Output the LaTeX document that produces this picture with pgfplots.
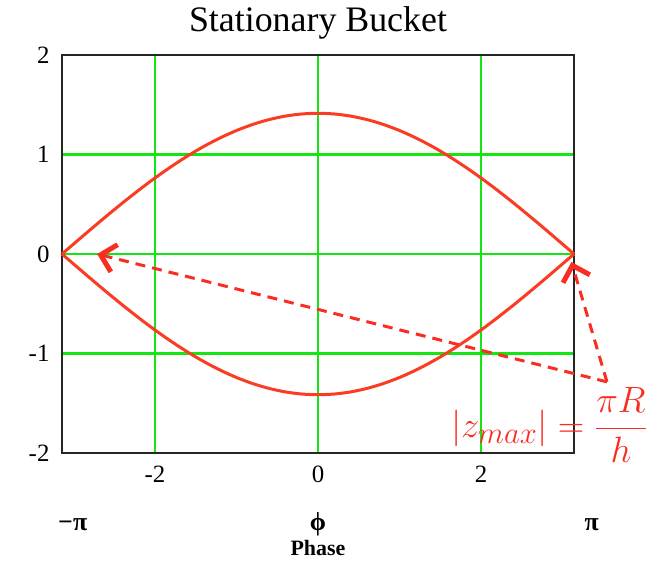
\documentclass[border=0pt]{standalone}
\usepackage{pgfplots}
\pgfplotsset{compat=1.18}
\usepackage{pgfplotstable}
\usepackage{graphicx}
\usepackage{fontspec}
\setmainfont{Liberation Serif}
\usetikzlibrary{arrows.meta}

\definecolor{gridgreen}{RGB}{20,230,20}
\definecolor{curvered}{RGB}{250,60,35}
\definecolor{notered}{RGB}{250,45,35}

% Separatrix of the stationary bucket (upper branch); lower branch is its mirror
\pgfplotstableread{
phi      z
-3.1416  0.0000
-3.0     0.1000
-2.8     0.2404
-2.6     0.3783
-2.4     0.5124
-2.2     0.6415
-2.0     0.7641
-1.8     0.8791
-1.6     0.9853
-1.4     1.0817
-1.2     1.1672
-1.0     1.2411
-0.8     1.3026
-0.6     1.3510
-0.4     1.3860
-0.2     1.4071
 0.0     1.4142
 0.2     1.4071
 0.4     1.3860
 0.6     1.3510
 0.8     1.3026
 1.0     1.2411
 1.2     1.1672
 1.4     1.0817
 1.6     0.9853
 1.8     0.8791
 2.0     0.7641
 2.2     0.6415
 2.4     0.5124
 2.6     0.3783
 2.8     0.2404
 3.0     0.1000
 3.1416  0.0000
}\upperbranch

\pgfplotstableread{
phi      z
-3.1416  -0.0000
-3.0     -0.1000
-2.8     -0.2404
-2.6     -0.3783
-2.4     -0.5124
-2.2     -0.6415
-2.0     -0.7641
-1.8     -0.8791
-1.6     -0.9853
-1.4     -1.0817
-1.2     -1.1672
-1.0     -1.2411
-0.8     -1.3026
-0.6     -1.3510
-0.4     -1.3860
-0.2     -1.4071
 0.0     -1.4142
 0.2     -1.4071
 0.4     -1.3860
 0.6     -1.3510
 0.8     -1.3026
 1.0     -1.2411
 1.2     -1.1672
 1.4     -1.0817
 1.6     -0.9853
 1.8     -0.8791
 2.0     -0.7641
 2.2     -0.6415
 2.4     -0.5124
 2.6     -0.3783
 2.8     -0.2404
 3.0     -0.1000
 3.1416  -0.0000
}\lowerbranch

\begin{document}
\begin{tikzpicture}
\path[use as bounding box] (-62bp,-108bp) rectangle (588bp,453bp);
\begin{axis}[
  at={(0,0)}, anchor=south west,
  scale only axis, width=512bp, height=398bp,
  xmin=-3.14159, xmax=3.14159, ymin=-2, ymax=2,
  xtick={-2,0,2}, ytick={-2,-1,0,1,2},
  grid=major,
  major grid style={line width=2.2bp, color=gridgreen},
  axis line style={line width=2.5bp, black!85},
  major tick length=0pt,
  tick label style={font=\fontsize{25}{25}\selectfont},
  /pgf/number format/assume math mode=true,
  xticklabel style={yshift=-9bp},
  yticklabel style={xshift=-9bp},
  clip=false,
]
\addplot[curvered, line width=3bp, smooth] table[x=phi, y=z] {\upperbranch};
\addplot[curvered, line width=3bp, smooth] table[x=phi, y=z] {\lowerbranch};

% axis title and range labels
\node[font=\fontsize{36}{36}\selectfont] at (rel axis cs:0.5,1) [yshift=32bp] {Stationary Bucket};
\node[font=\fontsize{26}{26}\selectfont\bfseries] at (axis cs:-3.01,-2.72) {−π};
\node[font=\fontsize{26}{26}\selectfont\bfseries] at (axis cs:0,-2.72) {ϕ};
\node[font=\fontsize{26}{26}\selectfont\bfseries] at (axis cs:3.36,-2.72) {π};
\node[font=\fontsize{22}{22}\selectfont\bfseries] at (axis cs:0,-2.95) {Phase};

% bucket height annotation
\draw[notered, line width=3bp, dash pattern=on 10bp off 7bp,
      -{Straight Barb[length=14bp, width=28bp, line width=5bp]}]
  (axis cs:3.546,-1.285) -- (axis cs:-2.71,0.0);
\draw[notered, line width=3bp, dash pattern=on 10bp off 7bp,
      -{Straight Barb[length=14bp, width=28bp, line width=5bp]}]
  (axis cs:3.546,-1.285) -- (axis cs:3.11,-0.08);
\node[notered, anchor=west, inner sep=0pt, font=\fontsize{24.88}{30}\selectfont]
  at (axis cs:1.63,-1.72) {\scalebox{1.48}{$\displaystyle |z_{max}| = \frac{\pi R}{h}$}};
\end{axis}
\end{tikzpicture}
\end{document}
